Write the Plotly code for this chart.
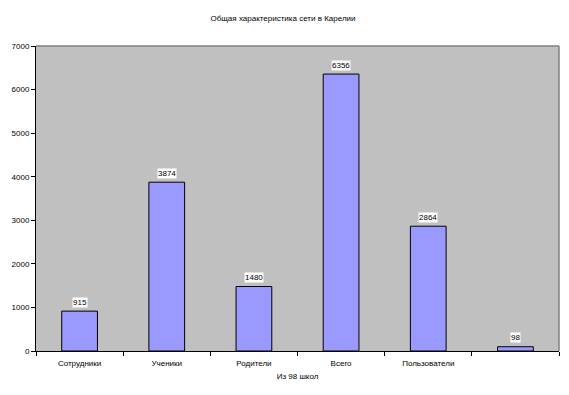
import plotly.graph_objects as go

categories = ["Сотрудники", "Ученики", "Родители", "Всего", "Пользователи", " "]
values = [915, 3874, 1480, 6356, 2864, 98]
y_ticks = [0, 1000, 2000, 3000, 4000, 5000, 6000, 7000]

font = "Liberation Sans, Arial, sans-serif"

fig = go.Figure()
fig.add_trace(go.Bar(
    x=categories, y=values,
    marker=dict(color="#9999FF", line=dict(color="black", width=1)),
    width=0.41,
    hoverinfo="x+y",
))

for c, v in zip(categories, values):
    fig.add_annotation(x=c, y=v, text=str(v), showarrow=False, yshift=9,
                       bgcolor="white", borderpad=0,
                       font=dict(family=font, size=8, color="black"))

fig.update_layout(
    width=569, height=395,
    margin=dict(l=28, r=18, t=38, b=52, autoexpand=False),
    paper_bgcolor="white", plot_bgcolor="#C0C0C0",
    showlegend=False,
    title=dict(text="Общая характеристика сети в Карелии", x=(283 - 8) / 569, xanchor="center",
               y=1 - 10 / 395, yanchor="middle",
               font=dict(family=font, size=8, color="black")),
    font=dict(family=font, size=8, color="black"),
)
fig.update_xaxes(
    title=dict(text="Из 98 школ", font=dict(family=font, size=8), standoff=6),
    showline=True, linecolor="black", linewidth=1,
    ticks="outside", ticklen=4, tickcolor="black", tickson="boundaries",
    ticklabelstandoff=4,
    showgrid=False, tickfont=dict(family=font, size=8), automargin=False,
)
fig.update_yaxes(
    range=[0, 7000], tickvals=y_ticks,
    showline=True, linecolor="black", linewidth=1,
    ticks="outside", ticklen=4, tickcolor="black",
    showgrid=False, zeroline=False, tickfont=dict(family=font, size=8),
    automargin=False,
)
fig.add_shape(type="line", xref="paper", yref="paper", x0=0, x1=1, y0=1, y1=1,
              line=dict(color="#808080", width=1.5))
fig.add_shape(type="line", xref="paper", yref="paper", x0=1, x1=1, y0=0, y1=1,
              line=dict(color="#808080", width=1.5))

fig.write_html("out.html")
